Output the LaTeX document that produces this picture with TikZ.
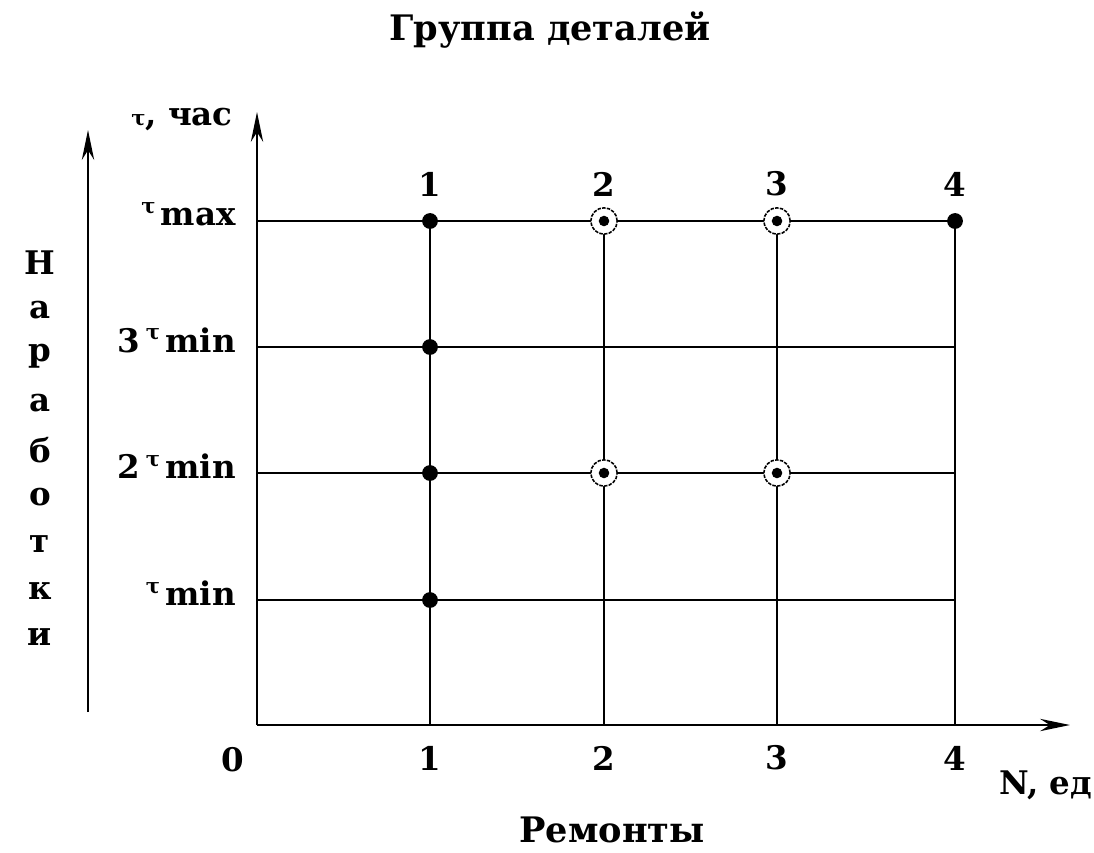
\documentclass[tikz,border=0pt]{standalone}
\usepackage{fontspec}
\setmainfont{DejaVu Serif}
\usetikzlibrary{arrows.meta}
\newcommand{\taulab}[1]{\raisebox{7pt}{\fontsize{12}{12}\selectfont τ}\,#1}
\begin{document}
\begin{tikzpicture}[x=0.02cm,y=-0.02cm,font=\fontsize{18.5}{21}\selectfont\bfseries,
  axis/.style={line width=1.5pt,-{Stealth[length=17pt,width=7pt]}},
  grid/.style={line width=1pt},
  fulldot/.style={circle,fill,inner sep=0pt,minimum size=9pt},
  ringdot/.style={circle,draw,line width=0.9pt,dash pattern=on 2pt off 0.7pt,fill=white,inner sep=0pt,minimum size=15pt}]
\useasboundingbox (0,0) rectangle (1094,852);
% axes
\coordinate (o) at (257,725);
\coordinate (ytop) at (257,112);
\coordinate (xend) at (1070,725);
\draw[axis] (o) -- (ytop);
\draw[axis] (o) -- (xend);
\coordinate (lb) at (88,712);
\coordinate (lt) at (88,130);
\draw[axis] (lb) -- (lt);
% level lines
\foreach \n/\y in {tmax/221,t3/347,t2/473,t1/600}{
  \coordinate (\n l) at (257,\y);
  \coordinate (\n r) at (955,\y);
  \draw[grid] (\n l) -- (\n r);
}
% repair columns
\foreach \k/\x in {1/430,2/604,3/777,4/955}{
  \coordinate (c\k t) at (\x,221);
  \coordinate (c\k b) at (\x,725);
  \draw[grid] (c\k t) -- (c\k b);
  \node (top\k) at (\x,184) {\k};
  \node (bot\k) at (\x,758) {\k};
}
\node (zero) at (233,760) {0};
% points
\node[fulldot] (p11) at (430,221) {};
\node[fulldot] (p12) at (430,347) {};
\node[fulldot] (p13) at (430,473) {};
\node[fulldot] (p14) at (430,600) {};
\node[fulldot] (p41) at (955,221) {};
\foreach \p/\x/\y in {p21/604/221,p31/777/221,p22/604/473,p32/777/473}{
  \node[ringdot] (\p) at (\x,\y) {};
  \fill (\p.center) circle (3pt);
}
% labels
\node[anchor=east] (lmax) at (242,214) {\taulab{max}};
\node[anchor=east] (l3) at (242,340) {3\,\taulab{min}};
\node[anchor=east] (l2) at (242,466) {2\,\taulab{min}};
\node[anchor=east] (l1) at (242,593) {\taulab{min}};
\node (yname) at (182,120) {{\fontsize{12}{12}\selectfont τ}, час};
\node (xname) at (1046,785) {N, ед};
\node[font=\fontsize{20}{22}\selectfont\bfseries] (title) at (550,30) {Группа деталей};
\node[font=\fontsize{20}{22}\selectfont\bfseries] (xtitle) at (612,830) {Ремонты};
\foreach \c [count=\i from 0] in {Н,а,р,а,б,о,т,к,и}{
  \node (v\i) at (40,263+46.8*\i) {\c};
}
\end{tikzpicture}
\end{document}
